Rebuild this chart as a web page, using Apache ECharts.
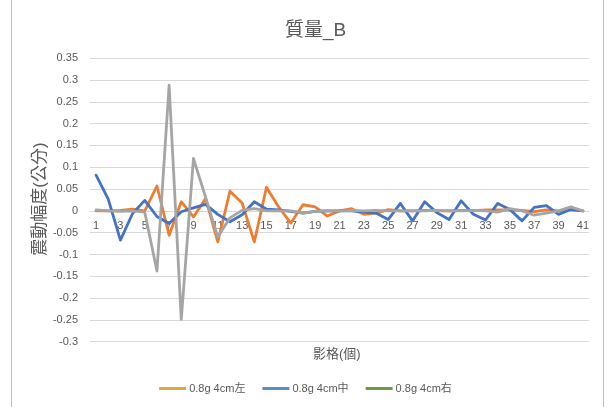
<!DOCTYPE html>
<html>
<head>
<meta charset="utf-8">
<script src="https://cdn.jsdelivr.net/npm/echarts@6/dist/echarts.min.js"></script>
<style>
  html, body { margin: 0; padding: 0; background: #fff; }
  #chart { width: 611px; height: 407px; }
</style>
</head>
<body>
<div id="chart"></div>
<script>
// Frame numbers along the x axis
const frames = ['1','2','3','4','5','6','7','8','9','10','11','12','13','14','15','16','17','18','19','20',
  '21','22','23','24','25','26','27','28','29','30','31','32','33','34','35','36','37','38','39','40','41'];

// Vibration amplitude (cm) for each camera position
const left = [0.000, 0.000, 0.001, 0.004, 0.000, 0.057, -0.056, 0.021, -0.014, 0.028,
  -0.071, 0.045, 0.018, -0.071, 0.054, 0.009, -0.028, 0.014, 0.009, -0.012,
  0.000, 0.005, -0.008, -0.005, 0.003, 0.000, 0.000, 0.001, 0.000, 0.000,
  0.001, 0.000, 0.002, 0.002, 0.002, 0.001, -0.002, 0.002, 0.000, 0.003, 0.000];
const middle = [0.082, 0.027, -0.067, -0.006, 0.024, -0.013, -0.029, -0.002, 0.007, 0.015,
  -0.008, -0.025, -0.009, 0.021, 0.004, 0.002, -0.001, -0.005, -0.001, 0.000,
  0.000, 0.000, -0.003, -0.005, -0.020, 0.017, -0.023, 0.021, -0.004, -0.020,
  0.023, -0.008, -0.021, 0.017, 0.003, -0.023, 0.008, 0.012, -0.008, 0.003, 0.000];
const right = [0.002, 0.000, -0.001, 0.000, -0.003, -0.138, 0.288, -0.249, 0.120, 0.031,
  -0.060, -0.016, 0.001, 0.005, 0.000, 0.000, 0.000, -0.005, -0.001, 0.000,
  0.000, 0.001, 0.000, 0.001, 0.000, 0.000, 0.000, 0.000, 0.001, 0.000,
  0.000, 0.001, 0.000, -0.003, 0.005, 0.000, -0.010, -0.005, 0.000, 0.009, 0.000];

const seriesNames = ['0.8g 4cm左', '0.8g 4cm中', '0.8g 4cm右'];
const lineColors = ['#ED7D31', '#4472C4', '#A5A5A5'];
const legendColors = ['#E3A735', '#5B8BC9', '#6C9C42'];

const FONT = '"Liberation Sans", "Noto Sans CJK TC", sans-serif';
const TEXT = '#595959';

// Plot box and value range; the category axis sits on the zero line
const GRID = { left: 90, right: 22, top: 58.2, bottom: 65.3 };
const Y_MIN = -0.3, Y_MAX = 0.35;
const plotH = 407 - GRID.top - GRID.bottom;
const zeroFromBottom = plotH * (0 - Y_MIN) / (Y_MAX - Y_MIN);

const chart = echarts.init(document.getElementById('chart'), null, { renderer: 'canvas' });

const mkSeries = (name, data, color) => ({
  name, type: 'line', data, symbol: 'none', smooth: false,
  lineStyle: { color, width: 2.8, join: 'round', cap: 'round' },
  itemStyle: { color }
});

chart.setOption({
  animation: false,
  backgroundColor: '#ffffff',
  textStyle: { fontFamily: FONT },
  title: {
    text: '質量_B', left: 280, top: 16,
    textStyle: { fontSize: 19, fontWeight: 'normal', color: TEXT, fontFamily: FONT }
  },
  grid: Object.assign({ containLabel: false }, GRID),
  legend: {
    bottom: 8, left: 'center',
    icon: 'rect', itemWidth: 27, itemHeight: 3, itemGap: 17,
    textStyle: { fontSize: 11, color: TEXT, fontFamily: FONT, padding: [0, 0, 0, -2] },
    data: seriesNames.map((n, i) => ({ name: n, itemStyle: { color: legendColors[i] } }))
  },
  xAxis: {
    type: 'category', data: frames, boundaryGap: true,
    position: 'bottom', offset: -zeroFromBottom,
    axisLine: { onZero: false, lineStyle: { color: '#d9d9d9', width: 1 } },
    axisTick: { show: false },
    axisLabel: { interval: 1, fontSize: 11, color: TEXT, margin: 10, fontFamily: FONT },
    splitLine: { show: false }
  },
  yAxis: {
    type: 'value', min: Y_MIN, max: Y_MAX, interval: 0.05,
    axisLine: { show: false }, axisTick: { show: false },
    axisLabel: { fontSize: 11, color: TEXT, margin: 12, fontFamily: FONT },
    splitLine: { lineStyle: { color: '#d9d9d9', width: 1 } }
  },
  graphic: [
    { type: 'line', shape: { x1: 11.5, y1: 0, x2: 11.5, y2: 407 }, style: { stroke: '#bfbfbf', lineWidth: 1 } },
    { type: 'line', shape: { x1: 603.5, y1: 0, x2: 603.5, y2: 407 }, style: { stroke: '#bfbfbf', lineWidth: 1 } },
    { type: 'text', left: 313, top: 348,
      style: { text: '影格(個)', font: '13px ' + FONT, fill: TEXT } },
    { type: 'text', x: 40, y: 199, rotation: Math.PI / 2,
      style: { text: '震動幅度(公分)', font: '17px ' + FONT, fill: TEXT, align: 'center', verticalAlign: 'middle' } }
  ],
  series: [
    mkSeries(seriesNames[0], left, lineColors[0]),
    mkSeries(seriesNames[1], middle, lineColors[1]),
    mkSeries(seriesNames[2], right, lineColors[2])
  ]
});
</script>
</body>
</html>
